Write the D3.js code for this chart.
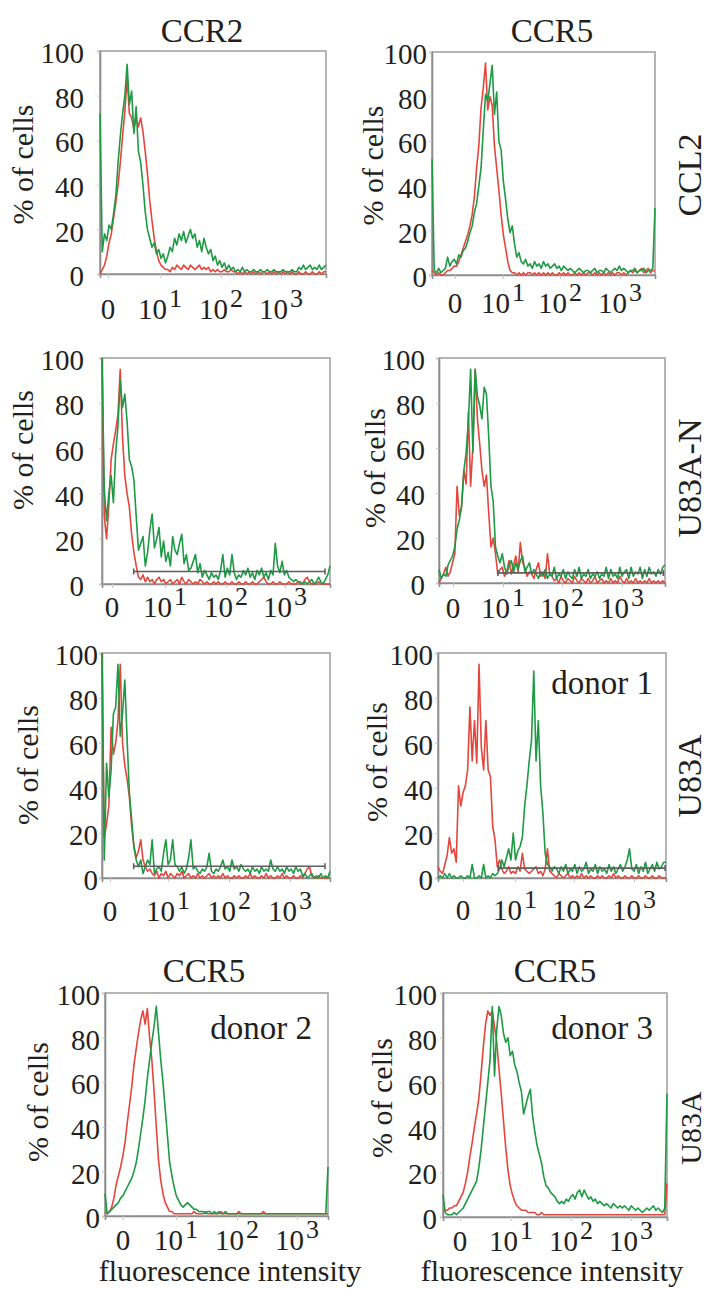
<!DOCTYPE html>
<html>
<head>
<meta charset="utf-8">
<script src="https://d3js.org/d3.v7.min.js"></script>
<style>
  svg text { font-family: "Liberation Serif", serif !important; }
</style>
</head>
<body style="margin:0; background:#fff">
<svg id="chart" width="710" height="1289" font-family="Liberation Serif"></svg>
<script>
// y axis ticks (% of cells) and x tick labels (logicle display)
var yTicks = [0, 20, 40, 60, 80, 100];
var xTickLabels = [["0", ""], ["10", "1"], ["10", "2"], ["10", "3"]];

// x positions (0-100 = channel range, % of plot width) of the hand-set x labels
var xTicksA = [3.5, 26.5, 53.5, 80.1];
var xTicksB = [10.3, 31.8, 57.4, 84.3];
var xTicksC = [4.4, 27.6, 54.4, 80.3];
var xTicksD = [6.2, 28.3, 54.4, 81.0];
var xTicksE = [3.5, 28.9, 55.7, 82.5];
var xTicksF = [11.0, 33.8, 59.6, 86.0];
var xTicksG = [8.1, 31.8, 59.2, 86.1];
var xTicksH = [7.6, 30.4, 57.1, 83.9];

// histograms: 101 bins each (bin 0 .. 100 across the channel range)
// row 1: CCL2, CCR2 / CCR5
var ccl2Ccr2Red = [0,2,4,8,14,18,25,32,40,50, 62,73,88,72,70,65,70,66,70,64, 55,45,33,24,16,10,6,4,3,2,
  2,1,3,2,4,3,2,4,3,2, 4,3,2,3,4,2,3,2,3,1, 2,1,2,1,1,2,1,1,2,1, 1,0,1,0,1,0,1,0,1,0,
  1,0,1,1,0,1,0,1,0,1, 0,1,0,1,0,1,0,0,1,0, 0,1,0,0,1,0,0,1,0,1,1];
var ccl2Ccr2Green = [72,10,18,15,22,20,27,35,50,62, 72,80,94,76,82,63,75,55,50,40, 28,20,16,12,14,9,11,7,9,5,
  8,12,10,16,13,18,15,19,14,17, 20,16,18,12,15,10,16,12,9,11, 6,8,4,6,3,5,2,4,2,3,
  1,2,1,3,1,2,1,1,2,1, 1,2,1,1,2,1,1,2,1,1, 1,2,1,1,1,2,1,1,3,2, 4,2,3,4,2,3,2,4,2,3,4];
var ccl2Ccr5Red = [2,1,0,1,0,0,1,2,2,3, 4,4,6,9,12,15,18,22,27,35, 48,58,75,84,95,74,80,76,58,48,
  38,27,18,12,6,2,1,1,0,1, 0,1,0,1,1,0,1,0,1,0, 1,0,1,0,1,0,0,1,0,1, 0,1,0,0,1,0,1,0,1,0,
  1,1,0,1,0,1,0,1,0,1, 0,1,0,1,1,0,1,0,1,2, 1,2,1,2,3,1,2,3,1,2,2];
var ccl2Ccr5Green = [52,2,1,3,1,2,3,8,4,6, 7,5,9,8,11,12,15,19,22,28, 32,40,48,65,81,78,86,94,72,82,
  60,56,42,34,25,19,22,14,8,10, 6,5,7,4,5,3,6,4,5,3, 6,4,5,3,4,5,3,4,2,4, 3,2,3,2,1,2,3,2,1,2,
  2,1,2,3,1,2,2,1,3,2, 1,2,3,2,4,2,3,2,1,2, 2,3,1,2,2,3,1,2,2,3,30];

// row 2: U83A-N
var u83nCcr2Red = [100,30,20,35,55,62,68,75,95,65, 48,40,34,22,14,8,3,2,4,1, 3,1,2,0,2,3,1,2,0,1,
  2,0,1,2,0,3,1,0,2,1, 0,1,0,2,1,0,1,0,0,1, 0,1,0,0,1,0,0,1,0,0, 1,0,0,1,0,0,1,0,0,1,
  2,3,1,0,0,1,0,0,1,0, 0,0,1,0,0,0,1,0,0,2, 3,1,0,0,0,1,0,0,0,0,0];
var u83nCcr2Green = [100,42,28,40,48,36,58,70,90,78, 84,72,55,52,46,30,15,18,21,8, 14,24,31,16,20,25,12,19,10,14,
  8,21,15,13,18,22,9,13,6,7, 10,13,5,9,3,6,4,2,5,3, 4,2,6,13,3,7,4,13,5,2, 4,3,6,4,7,3,5,2,6,4,
  7,3,5,2,6,4,18,8,5,10, 4,6,3,2,1,2,1,1,0,1, 0,1,2,0,1,3,1,0,2,4,8];
var u83nCcr5Red = [0,2,4,7,3,5,9,13,43,30, 34,50,44,76,43,61,95,73,62,50, 43,48,31,16,20,13,4,6,7,3,
  5,10,4,8,12,5,18,9,7,3, 5,4,2,6,9,3,5,2,13,4, 3,1,2,0,3,1,0,2,1,0, 3,1,0,2,1,0,2,0,1,3,
  0,1,2,0,1,0,2,0,1,0, 3,1,0,2,0,1,0,2,0,1, 0,1,0,2,0,1,0,1,0,1,0];
var u83nCcr5Green = [6,2,4,3,8,10,12,16,24,28, 34,50,58,72,95,58,95,83,79,73, 87,84,65,43,36,16,12,9,13,7,
  4,8,10,5,9,6,10,12,5,7, 9,4,6,4,2,5,3,6,2,4, 3,7,2,4,3,6,2,5,3,2, 6,3,7,2,4,3,6,2,4,3,
  5,2,4,3,7,2,6,3,4,2, 7,3,5,6,2,7,3,5,4,7, 2,6,3,7,4,5,3,6,4,7,8];

// row 3: U83A, donor 1
var u83Ccr2Red = [100,18,24,32,67,55,60,70,95,60, 50,44,36,23,14,9,12,17,8,5, 3,4,2,1,3,0,2,1,3,0,
  2,1,0,2,1,3,0,1,2,0, 1,0,2,0,1,0,1,2,0,1, 0,1,0,2,0,1,0,0,1,0, 1,0,0,1,0,2,0,1,0,0,
  1,0,2,0,1,0,0,1,0,2, 0,1,0,0,1,0,0,1,0,2, 4,5,1,0,0,1,0,0,0,0,0];
var u83Ccr2Green = [100,8,51,36,48,73,76,95,63,73, 88,62,38,26,14,8,5,8,2,5, 8,6,17,2,4,5,3,11,17,6,
  8,17,6,5,3,5,2,4,9,17, 4,5,3,2,4,3,5,11,3,2, 4,3,5,8,4,5,3,8,4,5, 3,6,4,3,4,2,5,3,4,2,
  5,3,4,3,8,4,3,5,3,4, 2,5,3,4,2,5,3,4,1,2, 0,1,2,0,1,0,2,0,1,0,3];
var u83Ccr5Red = [5,3,2,6,10,18,11,13,7,41, 32,38,41,48,76,52,70,51,95,58, 48,70,48,45,23,17,5,8,4,2,
  3,5,2,3,2,5,3,11,4,3, 2,3,4,5,2,3,1,4,13,3, 2,1,0,2,1,0,1,2,0,1, 0,1,0,2,0,1,0,1,0,0,
  1,0,1,0,0,1,0,2,0,1, 0,0,1,0,0,1,0,0,1,0, 0,1,0,0,1,0,0,1,0,0,0];
var u83Ccr5Green = [0,1,0,2,0,2,0,1,0,0, 1,0,0,1,0,6,0,0,1,0, 6,0,1,0,2,1,2,4,8,5,
  9,13,8,20,8,12,14,18,32,41, 52,61,92,52,70,41,29,11,6,5, 3,5,4,2,5,3,6,2,4,3, 6,2,5,3,4,7,2,4,3,6,
  2,5,3,4,2,6,3,5,2,4, 6,3,5,8,13,4,3,6,2,5, 3,7,2,4,6,3,7,4,5,7,7];

// row 4: U83A, CCR5, donors 2 and 3
var donor2Red = [2,1,2,4,8,14,18,22,27,33, 42,50,58,68,75,82,88,92,86,93, 80,70,56,40,25,16,10,6,4,2,
  2,1,1,1,1,1,1,1,1,1, 2,1,1,1,1,2,1,1,1,1, 1,1,2,1,1,1,1,1,1,1, 2,1,1,1,1,1,1,1,1,1,
  1,2,1,1,1,1,1,1,1,1, 1,1,1,1,1,1,1,1,1,1, 1,1,1,1,1,1,1,1,1,1,1];
var donor2Green = [10,1,2,3,4,5,6,8,9,11, 13,15,17,20,24,30,37,44,52,62, 70,78,85,94,82,70,60,48,36,24,
  18,13,9,7,5,4,5,6,5,4, 3,3,2,2,2,1,2,2,1,2, 1,2,1,1,2,1,1,1,1,1, 1,1,1,1,1,1,1,1,1,1,
  1,1,1,1,1,1,1,1,1,1, 1,1,1,1,1,1,1,1,1,1, 1,1,1,1,1,1,1,1,1,1,22];
var donor3Red = [3,3,3,4,4,5,5,7,9,11, 15,20,27,33,40,46,53,64,76,86, 92,90,92,85,78,66,55,43,31,21,
  14,10,7,5,4,3,3,3,2,2, 2,2,1,1,2,1,1,1,1,1, 1,1,1,1,1,1,1,1,1,1, 1,1,1,1,1,1,1,1,1,1,
  1,1,1,1,1,1,1,1,1,1, 1,1,1,1,1,1,1,1,1,1, 1,1,1,1,1,1,1,1,1,1,15];
var donor3Green = [10,2,1,1,1,2,1,2,3,4, 6,8,10,12,14,16,22,30,40,50, 60,70,94,63,84,94,90,82,78,80,
  72,74,68,65,60,56,46,50,54,57, 45,38,32,28,24,18,14,13,11,10, 9,7,6,7,6,8,7,9,10,8, 11,12,9,12,10,8,9,7,8,6,
  7,6,5,6,5,4,6,5,4,5, 4,5,4,3,5,4,3,4,3,2, 3,4,3,4,5,3,4,3,2,4,55];

// gate markers [from, to, level]
var gateC = [13.9, 97.8, 5.5];
var gateD = [26.1, 99.3, 4.5];
var gateE = [13.9, 97.8, 5.2];
var gateF = [26.4, 99.6, 4.4];

var panels = [
  {box: [100, 326, 51, 274], red: ccl2Ccr2Red, green: ccl2Ccr2Green, xt: xTicksA, lblRight: 84, xlY: 319, ylX: 33},
  {box: [432, 655, 52, 275], red: ccl2Ccr5Red, green: ccl2Ccr5Green, xt: xTicksB, lblRight: 427, xlY: 313, ylX: 383},
  {box: [102, 330, 358, 584], red: u83nCcr2Red, green: u83nCcr2Green, xt: xTicksC, lblRight: 84, xlY: 617, ylX: 33, gate: gateC, ylY: 450},
  {box: [439, 665, 358, 583], red: u83nCcr5Red, green: u83nCcr5Green, xt: xTicksD, lblRight: 425, xlY: 618, ylX: 385, gate: gateD, ylY: 468},
  {box: [102, 330, 653, 878], red: u83Ccr2Red, green: u83Ccr2Green, xt: xTicksE, lblRight: 98, xlY: 921, ylX: 38, gate: gateE, ylY: 765},
  {box: [438, 666, 653, 878], red: u83Ccr5Red, green: u83Ccr5Green, xt: xTicksF, lblRight: 433, xlY: 920, ylX: 387, gate: gateF, ylY: 762},
  {box: [105, 328, 993, 1216], red: donor2Red, green: donor2Green, xt: xTicksG, lblRight: 100, xlY: 1250, ylX: 48, ylY: 1102},
  {box: [443, 667, 993, 1217], red: donor3Red, green: donor3Green, xt: xTicksH, lblRight: 437, xlY: 1251, ylX: 392, ylY: 1098}
];

var svg = d3.select("#chart");

// serif text, set both as attribute and inline style
function label(sel) {
  return sel.attr("font-family", "Liberation Serif")
    .style("font-family", '"Liberation Serif", serif')
    .attr("fill", "#231f20");
}

panels.forEach(function(p) {
  var x = d3.scaleLinear().domain([0, 100]).range([p.box[0], p.box[1]]);
  var y = d3.scaleLinear().domain([0, 100]).range([p.box[3], p.box[2]]);
  var g = svg.append("g");

  // frame
  g.append("rect")
    .attr("x", x(0)).attr("y", y(100))
    .attr("width", x(100) - x(0)).attr("height", y(0) - y(100))
    .attr("fill", "none").attr("stroke", "#a3a3a3").attr("stroke-width", 1.6);

  // y axis
  var ya = g.append("g")
    .attr("transform", "translate(" + x(0) + ",0)")
    .call(d3.axisLeft(y).tickValues(yTicks).tickSize(3).tickPadding(x(0) - p.lblRight - 3));
  ya.attr("font-family", "Liberation Serif");
  ya.select(".domain").attr("stroke", "#8c8c8c").attr("stroke-width", 1.6);
  ya.selectAll(".tick line").attr("stroke", "#c8c8c8");
  label(ya.selectAll(".tick text")).attr("font-size", 29).attr("dy", "0.4em");

  // x axis marks
  var xa = g.append("g")
    .attr("transform", "translate(0," + y(0) + ")")
    .call(d3.axisBottom(x).tickValues(p.xt).tickSize(4).tickFormat(""));
  xa.select(".domain").attr("stroke", "#8c8c8c").attr("stroke-width", 1.6);
  xa.selectAll(".tick line").attr("stroke", "#c8c8c8");

  // x tick labels with superscripts
  p.xt.forEach(function(v, i) {
    var t = label(g.append("text"))
      .attr("x", x(v)).attr("y", p.xlY)
      .attr("text-anchor", "middle").attr("font-size", 29);
    t.append("tspan").text(xTickLabels[i][0]);
    if (xTickLabels[i][1]) {
      t.append("tspan").attr("dx", 2).attr("dy", -12).attr("font-size", 26).text(xTickLabels[i][1]);
    }
  });

  // y axis title
  var cy = p.ylY || (p.box[2] + p.box[3]) / 2 + 2;
  label(g.append("text"))
    .attr("transform", "translate(" + p.ylX + "," + cy + ") rotate(-90)")
    .attr("text-anchor", "middle").attr("font-size", 30)
    .text("% of cells");

  var line = d3.line()
    .x(function(d, i) { return x(i); })
    .y(function(d) { return y(d); });

  g.append("path").datum(p.red)
    .attr("fill", "none").attr("stroke", "#e3463c").attr("stroke-width", 1.6)
    .attr("stroke-linejoin", "round").attr("d", line);
  g.append("path").datum(p.green)
    .attr("fill", "none").attr("stroke", "#1e9a45").attr("stroke-width", 1.6)
    .attr("stroke-linejoin", "round").attr("d", line);

  // gate marker
  if (p.gate) {
    var gy = y(p.gate[2]);
    g.append("path")
      .attr("d", "M" + x(p.gate[0]) + "," + (gy - 3) + "V" + (gy + 3) +
                 "M" + x(p.gate[0]) + "," + gy + "H" + x(p.gate[1]) +
                 "M" + x(p.gate[1]) + "," + (gy - 3) + "V" + (gy + 3))
      .attr("fill", "none").attr("stroke", "#5e5e5e").attr("stroke-width", 1.6);
  }
});

// column titles
var titles = [["CCR2", 202, 42], ["CCR5", 552, 42], ["CCR5", 204, 982], ["CCR5", 555, 982]];
label(svg.selectAll(".title").data(titles).enter().append("text"))
  .attr("class", "title")
  .attr("x", function(d) { return d[1]; }).attr("y", function(d) { return d[2]; })
  .attr("text-anchor", "middle").attr("font-size", 33)
  .text(function(d) { return d[0]; });

// row labels (rotated, right side)
var rowLabels = [["CCL2", 175, 34], ["U83A-N", 478, 34], ["U83A", 776, 34], ["U83A", 1128, 30]];
label(svg.selectAll(".row").data(rowLabels).enter().append("text"))
  .attr("class", "row")
  .attr("transform", function(d) { return "translate(701," + d[1] + ") rotate(-90)"; })
  .attr("text-anchor", "middle").attr("font-size", function(d) { return d[2]; })
  .text(function(d) { return d[0]; });

// donor labels
var donors = [["donor 1", 653, 694], ["donor 2", 312, 1039], ["donor 3", 653, 1039]];
label(svg.selectAll(".donor").data(donors).enter().append("text"))
  .attr("class", "donor")
  .attr("x", function(d) { return d[1]; }).attr("y", function(d) { return d[2]; })
  .attr("text-anchor", "end").attr("font-size", 33)
  .text(function(d) { return d[0]; });

// x axis titles
[230, 552].forEach(function(cx) {
  label(svg.append("text"))
    .attr("x", cx).attr("y", 1281)
    .attr("text-anchor", "middle").attr("font-size", 30)
    .text("fluorescence intensity");
});
</script>
</body>
</html>
